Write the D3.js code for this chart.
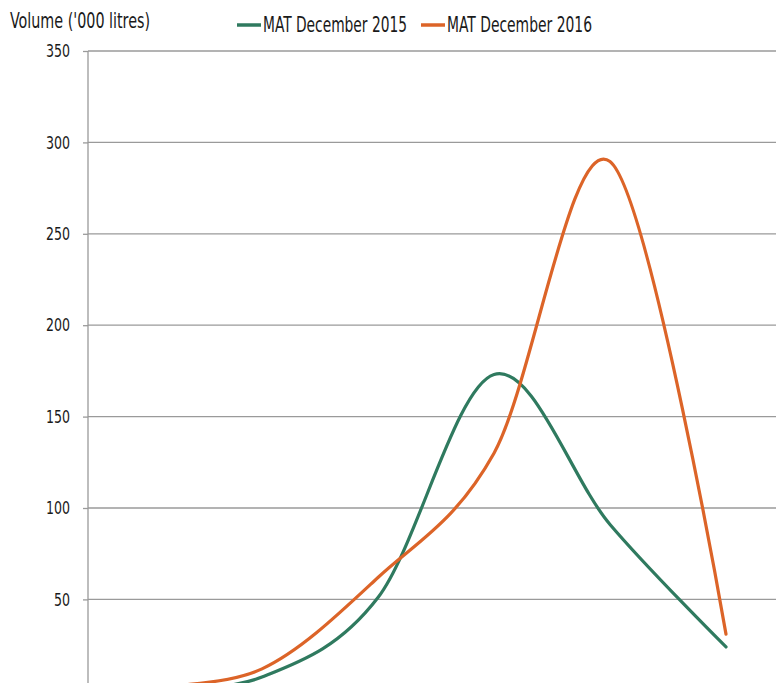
<!DOCTYPE html>
<html>
<head>
<meta charset="utf-8">
<script src="https://cdn.jsdelivr.net/npm/d3@7"></script>
<style>
  html, body { margin: 0; padding: 0; background: #fff; }
  svg { display: block; }
  text { font-family: "Liberation Sans Narrow", "DejaVu Sans Condensed", "Roboto", sans-serif; fill: #1a1a1a; }
</style>
</head>
<body>
<svg id="chart" width="776" height="683"></svg>
<script>
// ---- data ----
const categories = ["1", "2", "3", "4", "5", "6"];
const mat2015 = [0.5, 7.5, 51, 173, 91, 24];
const mat2016 = [2.5, 12, 62, 130, 289.5, 31];
const seriesNames = ["MAT December 2015", "MAT December 2016"];
const yTicks = [50, 100, 150, 200, 250, 300, 350];
const yTitle = "Volume ('000 litres)";

// ---- layout ----
const W = 776, H = 683;
const plotLeft = 88, plotRight = 784, plotTop = 51;
const unit = 91.4 / 50;
const plotBottom = plotTop + 350 * unit;

const colors = ["#2f7a5f", "#dc6428"];

const svg = d3.select("#chart");

const x = d3.scalePoint().domain(categories).range([plotLeft, plotRight]).padding(0.5);
const y = d3.scaleLinear().domain([0, 350]).range([plotBottom, plotTop]);

// gridlines + ticks
const yAxis = d3.axisLeft(y).tickValues(yTicks).tickSize(5).tickPadding(13).tickFormat(d3.format("d"));
const ga = svg.append("g").attr("transform", `translate(${plotLeft},0)`).call(yAxis);
ga.select(".domain").remove();
ga.selectAll(".tick line").attr("stroke", "#9a9a9a").attr("stroke-width", 1.3);
ga.selectAll(".tick text").attr("font-size", 18).attr("fill", "#1a1a1a")
  .attr("font-family", '"Liberation Sans Narrow", "DejaVu Sans Condensed", sans-serif')
  .attr("textLength", d => String(d).length * 8).attr("lengthAdjust", "spacingAndGlyphs");

svg.append("g").selectAll("line").data(yTicks).join("line")
  .attr("x1", plotLeft).attr("x2", W)
  .attr("y1", d => y(d)).attr("y2", d => y(d))
  .attr("stroke", "#9a9a9a").attr("stroke-width", 1.3);

// y axis line
svg.append("line").attr("x1", plotLeft).attr("x2", plotLeft).attr("y1", y(350)).attr("y2", H)
  .attr("stroke", "#9a9a9a").attr("stroke-width", 1.3);

// lines
const line = d3.line()
  .x((d, i) => x(categories[i]))
  .y(d => y(d))
  .curve(d3.curveCardinal.tension(0));

[mat2015, mat2016].forEach((s, i) => {
  svg.append("path").datum(s).attr("d", line)
    .attr("fill", "none").attr("stroke", colors[i]).attr("stroke-width", 3.2)
    .attr("stroke-linecap", "round").attr("stroke-linejoin", "round");
});

// title
svg.append("text").attr("x", 10).attr("y", 28).attr("font-size", 22)
  .attr("textLength", 140).attr("lengthAdjust", "spacingAndGlyphs").text(yTitle);

// legend
const legendX = [237, 421];
const legendLen = [144, 145];
seriesNames.forEach((n, i) => {
  const g = svg.append("g");
  g.append("line").attr("x1", legendX[i]).attr("x2", legendX[i] + 24)
    .attr("y1", 25).attr("y2", 25).attr("stroke", colors[i]).attr("stroke-width", 3.5);
  g.append("text").attr("x", legendX[i] + 26).attr("y", 31.5).attr("font-size", 21)
    .attr("textLength", legendLen[i]).attr("lengthAdjust", "spacingAndGlyphs").text(n);
});
</script>
</body>
</html>
